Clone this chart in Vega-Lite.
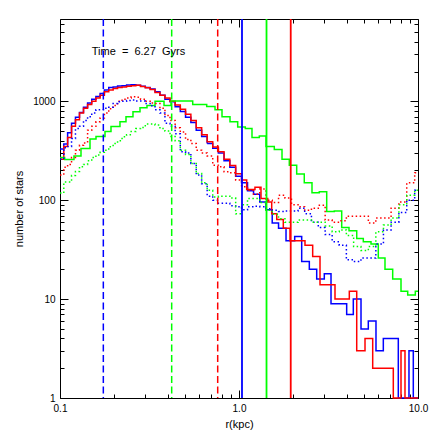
{
 "$schema": "https://vega.github.io/schema/vega-lite/v6.json",
 "width": 358, "height": 379,
 "autosize": {"type": "none"},
 "padding": {"left": 60, "top": 19, "right": 18, "bottom": 38},
 "background": "white",
 "config": {
   "view": {"stroke": "black", "strokeWidth": 1},
   "font": "Liberation Sans",
   "axis": {"domain": false, "grid": false, "tickColor": "black", "tickWidth": 1, "labelColor": "black", "labelFont": "Liberation Sans", "labelFontSize": 10, "titleFont": "Liberation Sans", "titleFontSize": 11, "titleFontWeight": "normal", "titleColor": "black", "labelFlush": false, "labelOverlap": false}
 },
 "datasets": {
  "hist": [
   {"s":"blue","d":"solid","r":0.1,"n":330},{"s":"blue","d":"solid","r":0.105,"n":370},{"s":"blue","d":"solid","r":0.1103,"n":480},{"s":"blue","d":"solid","r":0.116,"n":600},{"s":"blue","d":"solid","r":0.122,"n":690},{"s":"blue","d":"solid","r":0.1285,"n":770},{"s":"blue","d":"solid","r":0.1353,"n":870},{"s":"blue","d":"solid","r":0.1426,"n":960},{"s":"blue","d":"solid","r":0.1504,"n":1050},{"s":"blue","d":"solid","r":0.1587,"n":1120},{"s":"blue","d":"solid","r":0.1675,"n":1200},{"s":"blue","d":"solid","r":0.177,"n":1300},{"s":"blue","d":"solid","r":0.1872,"n":1380},{"s":"blue","d":"solid","r":0.1981,"n":1400},{"s":"blue","d":"solid","r":0.2097,"n":1430},{"s":"blue","d":"solid","r":0.2222,"n":1440},{"s":"blue","d":"solid","r":0.2355,"n":1460},{"s":"blue","d":"solid","r":0.2498,"n":1470},{"s":"blue","d":"solid","r":0.2653,"n":1450},{"s":"blue","d":"solid","r":0.2818,"n":1420},{"s":"blue","d":"solid","r":0.2996,"n":1380},{"s":"blue","d":"solid","r":0.3188,"n":1330},{"s":"blue","d":"solid","r":0.3395,"n":1250},{"s":"blue","d":"solid","r":0.3617,"n":1150},{"s":"blue","d":"solid","r":0.3857,"n":1050},{"s":"blue","d":"solid","r":0.4118,"n":990},{"s":"blue","d":"solid","r":0.4398,"n":880},{"s":"blue","d":"solid","r":0.47,"n":790},{"s":"blue","d":"solid","r":0.5028,"n":690},{"s":"blue","d":"solid","r":0.5384,"n":610},{"s":"blue","d":"solid","r":0.5769,"n":510},{"s":"blue","d":"solid","r":0.6186,"n":440},{"s":"blue","d":"solid","r":0.664,"n":375},{"s":"blue","d":"solid","r":0.7132,"n":335},{"s":"blue","d":"solid","r":0.7668,"n":300},{"s":"blue","d":"solid","r":0.825,"n":250},{"s":"blue","d":"solid","r":0.8887,"n":215},{"s":"blue","d":"solid","r":0.958,"n":175},{"s":"blue","d":"solid","r":1.034,"n":150},{"s":"blue","d":"solid","r":1.116,"n":125},{"s":"blue","d":"solid","r":1.206,"n":115},{"s":"blue","d":"solid","r":1.306,"n":96},{"s":"blue","d":"solid","r":1.414,"n":80},{"s":"blue","d":"solid","r":1.533,"n":59},{"s":"blue","d":"solid","r":1.663,"n":52},{"s":"blue","d":"solid","r":1.831,"n":39},{"s":"blue","d":"solid","r":2.047,"n":43},{"s":"blue","d":"solid","r":2.24,"n":24},{"s":"blue","d":"solid","r":2.471,"n":20},{"s":"blue","d":"solid","r":2.717,"n":16},{"s":"blue","d":"solid","r":2.996,"n":18},{"s":"blue","d":"solid","r":3.266,"n":9},{"s":"blue","d":"solid","r":3.995,"n":7},{"s":"blue","d":"solid","r":4.351,"n":10},{"s":"blue","d":"solid","r":4.804,"n":5},{"s":"blue","d":"solid","r":5.277,"n":6},{"s":"blue","d":"solid","r":5.825,"n":3},{"s":"blue","d":"solid","r":6.401,"n":4},{"s":"blue","d":"solid","r":7.762,"n":1},{"s":"blue","d":"solid","r":8.905,"n":3},{"s":"blue","d":"solid","r":9.413,"n":1},{"s":"blue","d":"solid","r":10,"n":1},

   {"s":"red","d":"solid","r":0.1,"n":260},{"s":"red","d":"solid","r":0.105,"n":350},{"s":"red","d":"solid","r":0.1103,"n":430},{"s":"red","d":"solid","r":0.116,"n":560},{"s":"red","d":"solid","r":0.122,"n":650},{"s":"red","d":"solid","r":0.1285,"n":760},{"s":"red","d":"solid","r":0.1353,"n":850},{"s":"red","d":"solid","r":0.1426,"n":930},{"s":"red","d":"solid","r":0.1504,"n":1000},{"s":"red","d":"solid","r":0.1587,"n":1080},{"s":"red","d":"solid","r":0.1675,"n":1150},{"s":"red","d":"solid","r":0.177,"n":1250},{"s":"red","d":"solid","r":0.1872,"n":1300},{"s":"red","d":"solid","r":0.1981,"n":1350},{"s":"red","d":"solid","r":0.2097,"n":1380},{"s":"red","d":"solid","r":0.2222,"n":1400},{"s":"red","d":"solid","r":0.2355,"n":1420},{"s":"red","d":"solid","r":0.2498,"n":1440},{"s":"red","d":"solid","r":0.2653,"n":1450},{"s":"red","d":"solid","r":0.2818,"n":1410},{"s":"red","d":"solid","r":0.2996,"n":1370},{"s":"red","d":"solid","r":0.3188,"n":1320},{"s":"red","d":"solid","r":0.3395,"n":1230},{"s":"red","d":"solid","r":0.3617,"n":1150},{"s":"red","d":"solid","r":0.3857,"n":1080},{"s":"red","d":"solid","r":0.4118,"n":1000},{"s":"red","d":"solid","r":0.4398,"n":920},{"s":"red","d":"solid","r":0.47,"n":830},{"s":"red","d":"solid","r":0.5028,"n":740},{"s":"red","d":"solid","r":0.5384,"n":640},{"s":"red","d":"solid","r":0.5769,"n":540},{"s":"red","d":"solid","r":0.6186,"n":460},{"s":"red","d":"solid","r":0.664,"n":390},{"s":"red","d":"solid","r":0.7132,"n":345},{"s":"red","d":"solid","r":0.7668,"n":310},{"s":"red","d":"solid","r":0.825,"n":260},{"s":"red","d":"solid","r":0.8887,"n":225},{"s":"red","d":"solid","r":0.958,"n":185},{"s":"red","d":"solid","r":1.034,"n":160},{"s":"red","d":"solid","r":1.104,"n":128},{"s":"red","d":"solid","r":1.228,"n":135},{"s":"red","d":"solid","r":1.327,"n":104},{"s":"red","d":"solid","r":1.447,"n":96},{"s":"red","d":"solid","r":1.523,"n":73},{"s":"red","d":"solid","r":1.625,"n":64},{"s":"red","d":"solid","r":1.768,"n":52},{"s":"red","d":"solid","r":1.928,"n":39},{"s":"red","d":"solid","r":2.337,"n":35},{"s":"red","d":"solid","r":2.58,"n":27},{"s":"red","d":"solid","r":2.835,"n":14},{"s":"red","d":"solid","r":3.438,"n":10},{"s":"red","d":"solid","r":4.133,"n":12},{"s":"red","d":"solid","r":4.546,"n":3},{"s":"red","d":"solid","r":5.058,"n":4},{"s":"red","d":"solid","r":5.584,"n":2},{"s":"red","d":"solid","r":7.278,"n":1},{"s":"red","d":"solid","r":8.036,"n":3},{"s":"red","d":"solid","r":8.46,"n":1},{"s":"red","d":"solid","r":10,"n":1},

   {"s":"green","d":"solid","r":0.1,"n":270},{"s":"green","d":"solid","r":0.1062,"n":258},{"s":"green","d":"solid","r":0.1197,"n":280},{"s":"green","d":"solid","r":0.131,"n":334},{"s":"green","d":"solid","r":0.1471,"n":415},{"s":"green","d":"solid","r":0.1589,"n":440},{"s":"green","d":"solid","r":0.1784,"n":495},{"s":"green","d":"solid","r":0.1927,"n":555},{"s":"green","d":"solid","r":0.2163,"n":620},{"s":"green","d":"solid","r":0.2337,"n":700},{"s":"green","d":"solid","r":0.2557,"n":785},{"s":"green","d":"solid","r":0.2799,"n":860},{"s":"green","d":"solid","r":0.3062,"n":905},{"s":"green","d":"solid","r":0.3395,"n":1000},{"s":"green","d":"solid","r":0.3811,"n":905},{"s":"green","d":"solid","r":0.417,"n":1010},{"s":"green","d":"solid","r":0.5513,"n":930},{"s":"green","d":"solid","r":0.6601,"n":885},{"s":"green","d":"solid","r":0.7345,"n":820},{"s":"green","d":"solid","r":0.8037,"n":700},{"s":"green","d":"solid","r":0.8907,"n":620},{"s":"green","d":"solid","r":0.9834,"n":550},{"s":"green","d":"solid","r":1.0844,"n":530},{"s":"green","d":"solid","r":1.1819,"n":430},{"s":"green","d":"solid","r":1.2987,"n":445},{"s":"green","d":"solid","r":1.4155,"n":350},{"s":"green","d":"solid","r":1.5748,"n":325},{"s":"green","d":"solid","r":1.7389,"n":260},{"s":"green","d":"solid","r":1.9099,"n":226},{"s":"green","d":"solid","r":2.1006,"n":184},{"s":"green","d":"solid","r":2.3158,"n":150},{"s":"green","d":"solid","r":2.5572,"n":119},{"s":"green","d":"solid","r":2.8097,"n":122},{"s":"green","d":"solid","r":3.0901,"n":77},{"s":"green","d":"solid","r":3.4079,"n":78},{"s":"green","d":"solid","r":3.7477,"n":53},{"s":"green","d":"solid","r":4.1167,"n":49},{"s":"green","d":"solid","r":4.5466,"n":41},{"s":"green","d":"solid","r":4.9486,"n":38},{"s":"green","d":"solid","r":5.4633,"n":36},{"s":"green","d":"solid","r":6.0003,"n":26},{"s":"green","d":"solid","r":6.5405,"n":20},{"s":"green","d":"solid","r":7.2215,"n":16},{"s":"green","d":"solid","r":8.036,"n":12},{"s":"green","d":"solid","r":8.7599,"n":11},{"s":"green","d":"solid","r":9.6589,"n":12},{"s":"green","d":"solid","r":10,"n":12},

   {"s":"red","d":"dotted","r":0.1,"n":180},{"s":"red","d":"dotted","r":0.105,"n":215},{"s":"red","d":"dotted","r":0.1103,"n":230},{"s":"red","d":"dotted","r":0.116,"n":270},{"s":"red","d":"dotted","r":0.122,"n":320},{"s":"red","d":"dotted","r":0.1285,"n":360},{"s":"red","d":"dotted","r":0.1353,"n":380},{"s":"red","d":"dotted","r":0.1426,"n":510},{"s":"red","d":"dotted","r":0.1504,"n":560},{"s":"red","d":"dotted","r":0.1587,"n":620},{"s":"red","d":"dotted","r":0.1675,"n":680},{"s":"red","d":"dotted","r":0.177,"n":760},{"s":"red","d":"dotted","r":0.1872,"n":840},{"s":"red","d":"dotted","r":0.1981,"n":910},{"s":"red","d":"dotted","r":0.2097,"n":1000},{"s":"red","d":"dotted","r":0.2222,"n":1050},{"s":"red","d":"dotted","r":0.2355,"n":1080},{"s":"red","d":"dotted","r":0.2498,"n":1110},{"s":"red","d":"dotted","r":0.2653,"n":1100},{"s":"red","d":"dotted","r":0.2818,"n":1050},{"s":"red","d":"dotted","r":0.2996,"n":1000},{"s":"red","d":"dotted","r":0.3188,"n":960},{"s":"red","d":"dotted","r":0.3395,"n":950},{"s":"red","d":"dotted","r":0.3617,"n":850},{"s":"red","d":"dotted","r":0.3857,"n":720},{"s":"red","d":"dotted","r":0.4118,"n":640},{"s":"red","d":"dotted","r":0.4398,"n":540},{"s":"red","d":"dotted","r":0.47,"n":490},{"s":"red","d":"dotted","r":0.5028,"n":410},{"s":"red","d":"dotted","r":0.5384,"n":375},{"s":"red","d":"dotted","r":0.5769,"n":320},{"s":"red","d":"dotted","r":0.6186,"n":300},{"s":"red","d":"dotted","r":0.664,"n":280},{"s":"red","d":"dotted","r":0.7132,"n":226},{"s":"red","d":"dotted","r":0.7668,"n":218},{"s":"red","d":"dotted","r":0.825,"n":194},{"s":"red","d":"dotted","r":0.8887,"n":190},{"s":"red","d":"dotted","r":0.958,"n":160},{"s":"red","d":"dotted","r":1.034,"n":137},{"s":"red","d":"dotted","r":1.116,"n":126},{"s":"red","d":"dotted","r":1.206,"n":115},{"s":"red","d":"dotted","r":1.306,"n":130},{"s":"red","d":"dotted","r":1.414,"n":100},{"s":"red","d":"dotted","r":1.533,"n":95},{"s":"red","d":"dotted","r":1.663,"n":112},{"s":"red","d":"dotted","r":1.806,"n":105},{"s":"red","d":"dotted","r":1.964,"n":90},{"s":"red","d":"dotted","r":2.137,"n":86},{"s":"red","d":"dotted","r":2.328,"n":79},{"s":"red","d":"dotted","r":2.539,"n":83},{"s":"red","d":"dotted","r":2.773,"n":89},{"s":"red","d":"dotted","r":3.029,"n":63},{"s":"red","d":"dotted","r":3.315,"n":60},{"s":"red","d":"dotted","r":3.63,"n":62},{"s":"red","d":"dotted","r":3.979,"n":69},{"s":"red","d":"dotted","r":4.369,"n":69},{"s":"red","d":"dotted","r":4.8,"n":69},{"s":"red","d":"dotted","r":5.279,"n":59},{"s":"red","d":"dotted","r":5.813,"n":66},{"s":"red","d":"dotted","r":6.411,"n":66},{"s":"red","d":"dotted","r":7.075,"n":83},{"s":"red","d":"dotted","r":7.818,"n":96},{"s":"red","d":"dotted","r":8.651,"n":150},{"s":"red","d":"dotted","r":9.585,"n":190},{"s":"red","d":"dotted","r":10,"n":190},

   {"s":"blue","d":"dotted","r":0.1,"n":260},{"s":"blue","d":"dotted","r":0.105,"n":340},{"s":"blue","d":"dotted","r":0.1103,"n":350},{"s":"blue","d":"dotted","r":0.116,"n":420},{"s":"blue","d":"dotted","r":0.122,"n":530},{"s":"blue","d":"dotted","r":0.1285,"n":560},{"s":"blue","d":"dotted","r":0.1353,"n":640},{"s":"blue","d":"dotted","r":0.1426,"n":700},{"s":"blue","d":"dotted","r":0.1504,"n":760},{"s":"blue","d":"dotted","r":0.1587,"n":820},{"s":"blue","d":"dotted","r":0.1675,"n":820},{"s":"blue","d":"dotted","r":0.177,"n":850},{"s":"blue","d":"dotted","r":0.1872,"n":870},{"s":"blue","d":"dotted","r":0.1981,"n":950},{"s":"blue","d":"dotted","r":0.2097,"n":990},{"s":"blue","d":"dotted","r":0.2222,"n":1000},{"s":"blue","d":"dotted","r":0.2355,"n":1020},{"s":"blue","d":"dotted","r":0.2498,"n":1030},{"s":"blue","d":"dotted","r":0.2653,"n":1010},{"s":"blue","d":"dotted","r":0.2818,"n":1010},{"s":"blue","d":"dotted","r":0.2996,"n":950},{"s":"blue","d":"dotted","r":0.3188,"n":900},{"s":"blue","d":"dotted","r":0.3395,"n":820},{"s":"blue","d":"dotted","r":0.3617,"n":760},{"s":"blue","d":"dotted","r":0.3857,"n":600},{"s":"blue","d":"dotted","r":0.4118,"n":560},{"s":"blue","d":"dotted","r":0.4398,"n":470},{"s":"blue","d":"dotted","r":0.47,"n":310},{"s":"blue","d":"dotted","r":0.5028,"n":300},{"s":"blue","d":"dotted","r":0.5384,"n":235},{"s":"blue","d":"dotted","r":0.5769,"n":180},{"s":"blue","d":"dotted","r":0.6186,"n":147},{"s":"blue","d":"dotted","r":0.664,"n":110},{"s":"blue","d":"dotted","r":0.7132,"n":100},{"s":"blue","d":"dotted","r":0.7668,"n":93},{"s":"blue","d":"dotted","r":0.825,"n":93},{"s":"blue","d":"dotted","r":0.8887,"n":88},{"s":"blue","d":"dotted","r":0.958,"n":86},{"s":"blue","d":"dotted","r":1.034,"n":80},{"s":"blue","d":"dotted","r":1.116,"n":86},{"s":"blue","d":"dotted","r":1.206,"n":87},{"s":"blue","d":"dotted","r":1.306,"n":86},{"s":"blue","d":"dotted","r":1.414,"n":82},{"s":"blue","d":"dotted","r":1.533,"n":79},{"s":"blue","d":"dotted","r":1.663,"n":77},{"s":"blue","d":"dotted","r":1.806,"n":78},{"s":"blue","d":"dotted","r":1.964,"n":78},{"s":"blue","d":"dotted","r":2.137,"n":83},{"s":"blue","d":"dotted","r":2.328,"n":73},{"s":"blue","d":"dotted","r":2.539,"n":60},{"s":"blue","d":"dotted","r":2.773,"n":53},{"s":"blue","d":"dotted","r":3.029,"n":45},{"s":"blue","d":"dotted","r":3.315,"n":38},{"s":"blue","d":"dotted","r":3.63,"n":35},{"s":"blue","d":"dotted","r":3.979,"n":25},{"s":"blue","d":"dotted","r":4.369,"n":24},{"s":"blue","d":"dotted","r":4.8,"n":26},{"s":"blue","d":"dotted","r":5.279,"n":26},{"s":"blue","d":"dotted","r":5.813,"n":36},{"s":"blue","d":"dotted","r":6.411,"n":50},{"s":"blue","d":"dotted","r":7.075,"n":60},{"s":"blue","d":"dotted","r":7.818,"n":75},{"s":"blue","d":"dotted","r":8.651,"n":100},{"s":"blue","d":"dotted","r":9.585,"n":126},{"s":"blue","d":"dotted","r":10,"n":126},

   {"s":"green","d":"dotted","r":0.1,"n":118},{"s":"green","d":"dotted","r":0.105,"n":153},{"s":"green","d":"dotted","r":0.1103,"n":153},{"s":"green","d":"dotted","r":0.116,"n":178},{"s":"green","d":"dotted","r":0.122,"n":195},{"s":"green","d":"dotted","r":0.1285,"n":218},{"s":"green","d":"dotted","r":0.1353,"n":230},{"s":"green","d":"dotted","r":0.1426,"n":250},{"s":"green","d":"dotted","r":0.1504,"n":270},{"s":"green","d":"dotted","r":0.1587,"n":286},{"s":"green","d":"dotted","r":0.1675,"n":305},{"s":"green","d":"dotted","r":0.177,"n":320},{"s":"green","d":"dotted","r":0.1872,"n":348},{"s":"green","d":"dotted","r":0.1981,"n":375},{"s":"green","d":"dotted","r":0.2097,"n":400},{"s":"green","d":"dotted","r":0.2222,"n":438},{"s":"green","d":"dotted","r":0.2355,"n":460},{"s":"green","d":"dotted","r":0.2498,"n":495},{"s":"green","d":"dotted","r":0.2653,"n":530},{"s":"green","d":"dotted","r":0.2818,"n":545},{"s":"green","d":"dotted","r":0.2996,"n":590},{"s":"green","d":"dotted","r":0.3188,"n":590},{"s":"green","d":"dotted","r":0.3395,"n":575},{"s":"green","d":"dotted","r":0.3617,"n":530},{"s":"green","d":"dotted","r":0.3857,"n":500},{"s":"green","d":"dotted","r":0.4118,"n":440},{"s":"green","d":"dotted","r":0.4398,"n":400},{"s":"green","d":"dotted","r":0.47,"n":320},{"s":"green","d":"dotted","r":0.5028,"n":290},{"s":"green","d":"dotted","r":0.5384,"n":235},{"s":"green","d":"dotted","r":0.5769,"n":186},{"s":"green","d":"dotted","r":0.6186,"n":150},{"s":"green","d":"dotted","r":0.664,"n":126},{"s":"green","d":"dotted","r":0.7132,"n":108},{"s":"green","d":"dotted","r":0.7668,"n":110},{"s":"green","d":"dotted","r":0.825,"n":110},{"s":"green","d":"dotted","r":0.8887,"n":105},{"s":"green","d":"dotted","r":0.958,"n":73},{"s":"green","d":"dotted","r":1.034,"n":90},{"s":"green","d":"dotted","r":1.116,"n":104},{"s":"green","d":"dotted","r":1.206,"n":104},{"s":"green","d":"dotted","r":1.306,"n":95},{"s":"green","d":"dotted","r":1.414,"n":79},{"s":"green","d":"dotted","r":1.533,"n":72},{"s":"green","d":"dotted","r":1.663,"n":65},{"s":"green","d":"dotted","r":1.806,"n":60},{"s":"green","d":"dotted","r":1.964,"n":60},{"s":"green","d":"dotted","r":2.137,"n":63},{"s":"green","d":"dotted","r":2.328,"n":63},{"s":"green","d":"dotted","r":2.539,"n":60},{"s":"green","d":"dotted","r":2.773,"n":60},{"s":"green","d":"dotted","r":3.029,"n":55},{"s":"green","d":"dotted","r":3.315,"n":48},{"s":"green","d":"dotted","r":3.63,"n":50},{"s":"green","d":"dotted","r":3.979,"n":44},{"s":"green","d":"dotted","r":4.369,"n":34},{"s":"green","d":"dotted","r":4.8,"n":31},{"s":"green","d":"dotted","r":5.279,"n":34},{"s":"green","d":"dotted","r":5.813,"n":48},{"s":"green","d":"dotted","r":6.411,"n":56},{"s":"green","d":"dotted","r":7.075,"n":66},{"s":"green","d":"dotted","r":7.818,"n":90},{"s":"green","d":"dotted","r":8.651,"n":112},{"s":"green","d":"dotted","r":9.585,"n":126},{"s":"green","d":"dotted","r":10,"n":126}
  ],
  "vl": [
   {"s":"blue","d":"dashed","r":0.1746},{"s":"green","d":"dashed","r":0.4207},{"s":"red","d":"dashed","r":0.7603},
   {"s":"blue","d":"solid","r":1.0393},{"s":"green","d":"solid","r":1.4246},{"s":"red","d":"solid","r":1.9453}
  ],
  "lab": [{"r":0.1504,"n":3133,"t":"Time\u00a0 =\u00a0 6.27\u00a0 Gyrs"}]
 },
 "layer": [
  {
   "data": {"name": "hist"},
   "mark": {"type": "line", "interpolate": "step-after", "strokeWidth": 1.5},
   "encoding": {
    "x": {"field": "r", "type": "quantitative", "scale": {"type": "log", "domain": [0.1, 10], "nice": false},
          "axis": {"orient": "bottom", "values": [0.1,0.2,0.3,0.4,0.5,0.6,0.7,0.8,0.9,1,2,3,4,5,6,7,8,9,10],
                   "labelExpr": "datum.value == 0.1 ? '0.1' : datum.value == 1 ? '1.0' : datum.value == 10 ? '10.0' : ''",
                   "tickSize": {"condition": {"test": "datum.value == 0.1 || datum.value == 1 || datum.value == 10", "value": -8}, "value": -4},
                   "labelPadding": 13, "title": "r(kpc)", "titlePadding": 1}},
    "y": {"field": "n", "type": "quantitative", "scale": {"type": "log", "domain": [1, 6800], "nice": false},
          "axis": {"orient": "left", "values": [1,2,3,4,5,6,7,8,9,10,20,30,40,50,60,70,80,90,100,200,300,400,500,600,700,800,900,1000,2000,3000,4000,5000,6000],
                   "labelExpr": "datum.value == 1 ? '1' : datum.value == 10 ? '10' : datum.value == 100 ? '100' : datum.value == 1000 ? '1000' : ''",
                   "tickSize": {"condition": {"test": "datum.value == 1 || datum.value == 10 || datum.value == 100 || datum.value == 1000", "value": -8}, "value": -4},
                   "labelPadding": 13, "title": "number of stars", "titlePadding": 8}},
    "color": {"field": "s", "type": "nominal", "scale": {"domain": ["blue","red","green"], "range": ["#0000ff","#ff0000","#00ff00"]}, "legend": null},
    "strokeDash": {"field": "d", "type": "nominal", "scale": {"domain": ["solid","dotted","dashed"], "range": [[1,0],[1.5,2.5],[7,3.5]]}, "legend": null}
   }
  },
  {
   "data": {"name": "vl"},
   "mark": {"type": "rule"},
   "encoding": {
    "x": {"field": "r", "type": "quantitative", "scale": {"type": "log", "domain": [0.1, 10], "nice": false},
          "axis": {"orient": "top", "values": [0.1,0.2,0.3,0.4,0.5,0.6,0.7,0.8,0.9,1,2,3,4,5,6,7,8,9,10], "labels": false, "title": null,
                   "tickSize": {"condition": {"test": "datum.value == 0.1 || datum.value == 1 || datum.value == 10", "value": -8}, "value": -4}}},
    "color": {"field": "s", "type": "nominal", "scale": {"domain": ["blue","red","green"], "range": ["#0000ff","#ff0000","#00ff00"]}, "legend": null},
    "strokeDash": {"field": "d", "type": "nominal", "scale": {"domain": ["solid","dotted","dashed"], "range": [[1,0],[1.5,2.5],[7,3.5]]}, "legend": null},
    "strokeWidth": {"condition": {"test": "datum.d == 'solid'", "value": 1.8}, "value": 1.5}
   }
  },
  {
   "data": {"name": "lab"},
   "mark": {"type": "text", "align": "left", "baseline": "middle", "fontSize": 11, "font": "Liberation Sans", "color": "black"},
   "encoding": {
    "x": {"field": "r", "type": "quantitative", "scale": {"type": "log", "domain": [0.1, 10], "nice": false}, "axis": null},
    "y": {"field": "n", "type": "quantitative", "scale": {"type": "log", "domain": [1, 6800], "nice": false},
          "axis": {"orient": "right", "values": [1,2,3,4,5,6,7,8,9,10,20,30,40,50,60,70,80,90,100,200,300,400,500,600,700,800,900,1000,2000,3000,4000,5000,6000], "labels": false, "title": null,
                   "tickSize": {"condition": {"test": "datum.value == 1 || datum.value == 10 || datum.value == 100 || datum.value == 1000", "value": -8}, "value": -4}}},
    "text": {"field": "t"}
   }
  }
 ],
 "resolve": {"axis": {"x": "independent", "y": "independent"}}
}
